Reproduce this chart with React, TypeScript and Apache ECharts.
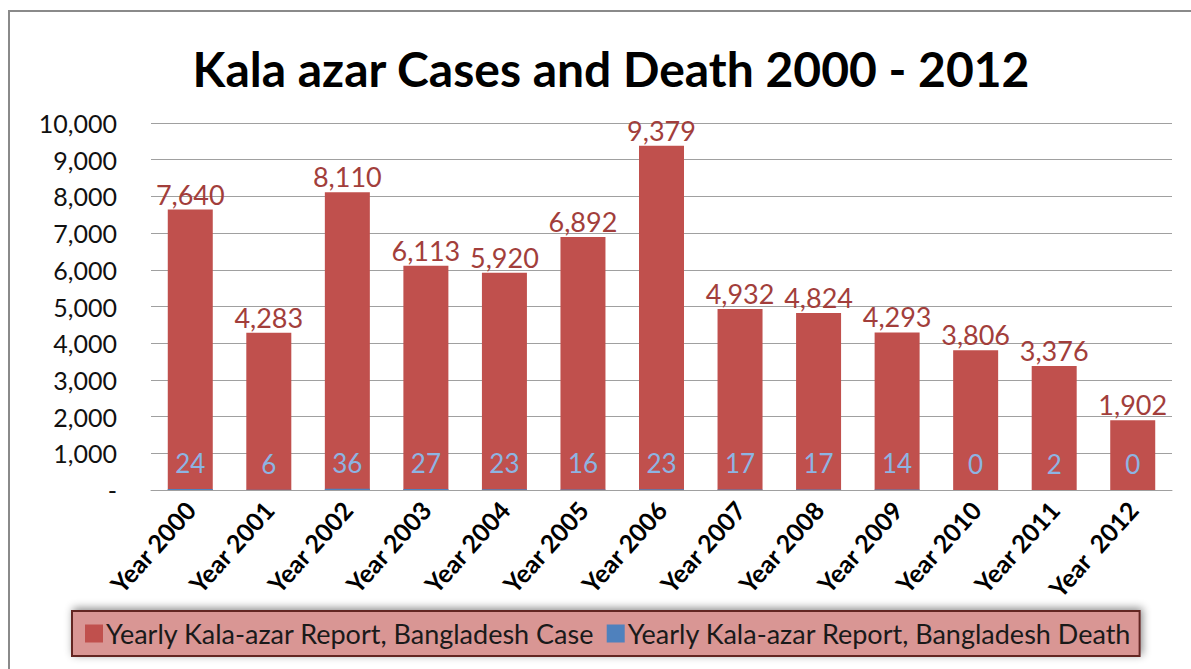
import React, { useEffect, useRef } from "react";
import * as echarts from "echarts";

const title = "Kala azar Cases and Death 2000 - 2012";
const categories = [
  "Year 2000", "Year 2001", "Year 2002", "Year 2003", "Year 2004", "Year 2005", "Year 2006",
  "Year 2007", "Year 2008", "Year 2009", "Year 2010", "Year 2011", "Year  2012",
];
const caseName = "Yearly Kala-azar Report, Bangladesh Case";
const deathName = "Yearly Kala-azar Report, Bangladesh Death";
const cases = [7640, 4283, 8110, 6113, 5920, 6892, 9379, 4932, 4824, 4293, 3806, 3376, 1902];
const deaths = [24, 6, 36, 27, 23, 16, 23, 17, 17, 14, 0, 2, 0];
const yTicks = [0, 1000, 2000, 3000, 4000, 5000, 6000, 7000, 8000, 9000, 10000];

const FONT = "Lato, 'Open Sans', sans-serif";

export default function App() {
  const ref = useRef<HTMLDivElement>(null);
  useEffect(() => {
    const chart = echarts.init(ref.current!, null, { renderer: "svg" });
    chart.setOption({
      animation: false,
      backgroundColor: "#ffffff",
      textStyle: { fontFamily: FONT },
      title: {
        text: title,
        left: 606,
        textAlign: "center",
        top: 39,
        textStyle: { fontFamily: FONT, fontSize: 48, fontWeight: "bold", color: "#000" },
      },
      graphic: [
        {
          type: "rect",
          shape: { x: 9, y: 11, width: 1300, height: 800 },
          style: { fill: "none", stroke: "#8a8a8a", lineWidth: 2 },
          silent: true,
        },
      ],
      legend: {
        top: 611,
        left: 72,
        data: [caseName, deathName],
        icon: "rect",
        itemWidth: 18,
        itemHeight: 18,
        itemGap: 12,
        padding: [9, 8, 9, 13],
        backgroundColor: "#d99694",
        borderColor: "#632523",
        borderWidth: 2,
        shadowBlur: 8,
        shadowColor: "rgba(0,0,0,0.45)",
        shadowOffsetX: 2,
        shadowOffsetY: -2,
        textStyle: { fontFamily: FONT, fontSize: 27, color: "#1a1a1a", padding: [0, 0, 0, -2] },
      },
      grid: { left: 151, right: 19, top: 123, bottom: 179 },
      xAxis: {
        type: "category",
        data: categories,
        axisLine: { show: true, lineStyle: { color: "#a0a0a0", width: 1 } },
        axisTick: { show: false },
        axisLabel: {
          rotate: 48,
          interval: 0,
          margin: 15,
          fontFamily: FONT,
          fontSize: 25,
          fontWeight: "bold",
          color: "#000",
        },
      },
      yAxis: {
        type: "value",
        min: 0,
        max: 10000,
        interval: 1000,
        axisLine: { show: false },
        axisTick: { show: false },
        splitLine: { lineStyle: { color: "#a0a0a0", width: 1 } },
        axisLabel: {
          margin: 34,
          fontFamily: FONT,
          fontSize: 25,
          color: "#111",
          customValues: yTicks,
          formatter: (v: number) => (v === 0 ? "-" : v.toLocaleString("en-US")),
        },
      },
      series: [
        {
          name: caseName,
          type: "bar",
          data: cases,
          barWidth: 45,
          barGap: "-100%",
          itemStyle: { color: "#c0504d" },
          label: {
            show: true,
            position: "top",
            distance: 2,
            fontFamily: FONT,
            fontSize: 27,
            color: "#a23e3b",
            formatter: (p: any) => Number(p.value).toLocaleString("en-US"),
          },
        },
        {
          name: deathName,
          type: "bar",
          data: deaths,
          barWidth: 45,
          barGap: "-100%",
          itemStyle: { color: "#4f81bd" },
          label: {
            show: true,
            position: "top",
            distance: 13,
            fontFamily: FONT,
            fontSize: 26,
            color: "#8db4e2",
          },
        },
      ],
    });
    return () => chart.dispose();
  }, []);
  return (
    <div
      ref={ref}
      style={{ position: "absolute", left: 0, top: 0, width: 1191, height: 669 }}
    />
  );
}
